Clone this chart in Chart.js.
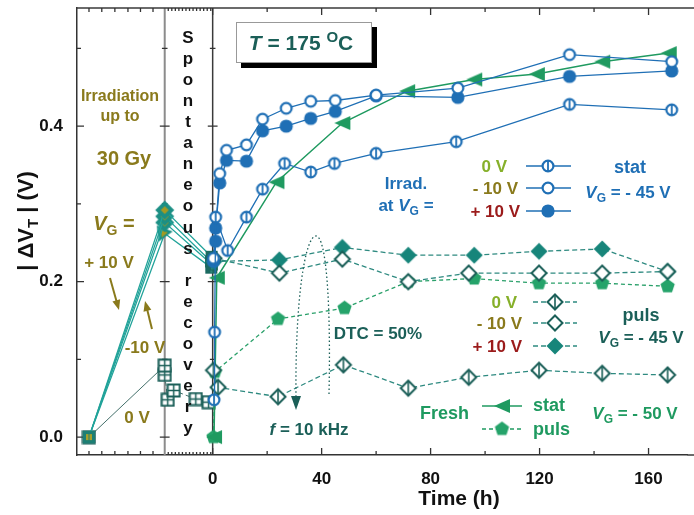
<!DOCTYPE html>
<html>
<head>
<meta charset="utf-8">
<script src="https://cdn.jsdelivr.net/npm/chart.js@4.4.0/dist/chart.umd.min.js"></script>
<style>
  html, body { margin: 0; padding: 0; background: #fff; overflow: hidden; }
</style>
</head>
<body>
<canvas id="chart" width="694" height="515"></canvas>
<script>
// |dVT| (V) versus time (h); t < 0 is irradiation (up to 30 Gy) and spontaneous recovery
const irradP10Stat = [[-45.4, 0], [-17.6, 0.292], [-0.4, 0.232]];
const irradP10Puls = [[-45.4, 0], [-17.6, 0.284], [-0.6, 0.226]];
const irradM10Stat = [[-45.4, 0], [-17.6, 0.276], [-0.3, 0.222]];
const irradM10Puls = [[-45.4, 0], [-17.6, 0.262], [-0.5, 0.218]];
const irradZero = [[-45.4, 0], [-17.6, 0.092]];
const recovZero = [[-17.6, 0.080], [-16.5, 0.048], [-14.3, 0.060], [-6.2, 0.049], [-1.5, 0.045]];

// static stress, VG = -45 V
const statZero = [[0.5, 0.048], [0.7, 0.135], [1.1, 0.283], [5.5, 0.240], [12.4, 0.283], [18.3, 0.319], [26.4, 0.352],
  [36, 0.341], [44.7, 0.352], [60, 0.365], [89.4, 0.380], [131, 0.428], [168.5, 0.421]];
const statM10 = [[0.3, 0.230], [2.6, 0.339], [5.1, 0.369], [12.4, 0.376], [18.3, 0.409], [27, 0.423], [36, 0.432],
  [45, 0.433], [60, 0.440], [90, 0.449], [131, 0.492], [168.5, 0.483]];
const statP10 = [[0.3, 0.226], [1.1, 0.252], [1.1, 0.269], [2.6, 0.327], [5.1, 0.356], [12.4, 0.355], [18.3, 0.394],
  [27, 0.400], [36, 0.410], [45, 0.419], [60, 0.439], [90, 0.437], [131, 0.464], [168.5, 0.471]];

// pulsed stress, VG = -45 V
const pulsZero = [[0.3, 0.086], [2, 0.064], [24, 0.052], [48, 0.093], [71.8, 0.063], [94, 0.077], [119.8, 0.086], [143, 0.082], [167, 0.080]];
const pulsM10 = [[0.5, 0.230], [24.5, 0.211], [47.6, 0.229], [71.8, 0.200], [94, 0.211], [119.8, 0.211], [143, 0.211], [167, 0.213]];
const pulsP10 = [[0.5, 0.226], [24.5, 0.228], [47.6, 0.244], [71.8, 0.234], [96, 0.234], [119.8, 0.239], [143, 0.242], [167, 0.213]];

// fresh devices, VG = -50 V
const freshStat = [[0.5, 0.0], [1.5, 0.205], [23.4, 0.328], [47.6, 0.404], [71.4, 0.445], [96, 0.460], [119, 0.467], [143, 0.483], [167.4, 0.494]];
const freshPuls = [[0.3, 0.0], [0.8, 0.084], [24, 0.152], [48.4, 0.166], [71.8, 0.200], [96, 0.204], [119.8, 0.198], [143, 0.198], [167, 0.194]];

const xTickLabels = [0, 40, 80, 120, 160];
const xMinorTicks = [20, 60, 100, 140];
const yTickLabels = [0, 0.2, 0.4];
const yMinorTicks = [0.1, 0.3, 0.5];
const irrEnd = -17.6;

const FAMILY = '"Liberation Sans", Arial, sans-serif';
const BLUE = '#1f6fb5';
const TEAL = '#17857a';
const DTEAL = '#1b5f58';
const GREEN = '#1f9a60';
const OLIVE = '#8a7a1c';
const LGREEN = '#86b02a';
const DRED = '#9b1b1b';
const IRR = '#22a39a';

const pts = arr => arr.map(([x, y]) => ({ x, y }));

function mk(w, h, fn) {
  const c = document.createElement('canvas');
  c.width = w; c.height = h;
  fn(c.getContext('2d'), w / 2, h / 2);
  return c;
}
function diamondPath(g, cx, cy, r) {
  g.beginPath(); g.moveTo(cx, cy - r); g.lineTo(cx + r, cy); g.lineTo(cx, cy + r); g.lineTo(cx - r, cy); g.closePath();
}

const mOpenCircle = mk(16, 16, (g, cx, cy) => {
  g.beginPath(); g.arc(cx, cy, 5.4, 0, Math.PI * 2); g.fillStyle = '#fff'; g.fill();
  g.lineWidth = 2.2; g.strokeStyle = BLUE; g.stroke();
});
const mBarCircle = mk(16, 16, (g, cx, cy) => {
  g.beginPath(); g.arc(cx, cy, 5.4, 0, Math.PI * 2); g.fillStyle = '#fff'; g.fill();
  g.lineWidth = 2.2; g.strokeStyle = BLUE; g.stroke();
  g.beginPath(); g.moveTo(cx, cy - 5); g.lineTo(cx, cy + 5); g.lineWidth = 1.8; g.stroke();
});
const mFullCircle = mk(16, 16, (g, cx, cy) => {
  g.beginPath(); g.arc(cx, cy, 6.6, 0, Math.PI * 2); g.fillStyle = BLUE; g.fill();
});
const mFullDiamond = mk(20, 20, (g, cx, cy) => {
  diamondPath(g, cx, cy, 8.5); g.fillStyle = TEAL; g.fill();
});
const mOpenDiamond = mk(20, 20, (g, cx, cy) => {
  diamondPath(g, cx, cy, 7.5); g.fillStyle = '#fff'; g.fill(); g.lineWidth = 2; g.strokeStyle = DTEAL; g.stroke();
});
const mBarDiamond = mk(20, 20, (g, cx, cy) => {
  diamondPath(g, cx, cy, 7.5); g.fillStyle = '#fff'; g.fill(); g.lineWidth = 2; g.strokeStyle = DTEAL; g.stroke();
  g.beginPath(); g.moveTo(cx, cy - 7); g.lineTo(cx, cy + 7); g.lineWidth = 1.6; g.stroke();
});
const mLeftTri = mk(18, 16, (g, cx, cy) => {
  g.beginPath(); g.moveTo(1, cy); g.lineTo(17, 1); g.lineTo(17, 15); g.closePath(); g.fillStyle = GREEN; g.fill();
});
const mPentagon = mk(17, 17, (g, cx, cy) => {
  g.beginPath();
  for (let k = 0; k < 5; k++) {
    const a = -Math.PI / 2 + k * 2 * Math.PI / 5;
    g.lineTo(cx + 7.5 * Math.cos(a), cy + 7.5 * Math.sin(a));
  }
  g.closePath(); g.fillStyle = '#25a36a'; g.fill();
});
const mCrossSquare = mk(15, 15, (g, cx, cy) => {
  g.fillStyle = '#fff'; g.fillRect(1.5, 1.5, 12, 12);
  g.strokeStyle = DTEAL; g.lineWidth = 2; g.strokeRect(1.5, 1.5, 12, 12);
  g.beginPath(); g.moveTo(cx, 2); g.lineTo(cx, 13); g.moveTo(2, cy); g.lineTo(13, cy); g.lineWidth = 1.5; g.stroke();
});
const mStart = mk(14, 14, (g, cx, cy) => {
  g.fillStyle = '#1c7f74'; g.fillRect(1, 1, 12, 12);
  g.fillStyle = '#a6a02a'; g.fillRect(cx - 3, cy - 3, 2.5, 6); g.fillRect(cx + 0.5, cy - 3, 2.5, 6);
});
const mIrrDiamond = mk(22, 22, (g, cx, cy) => {
  diamondPath(g, cx, cy, 9.5); g.fillStyle = '#1c8f84'; g.fill();
  diamondPath(g, cx, cy, 4); g.fillStyle = '#a39a22'; g.fill();
});
const mIrrTri = mk(20, 20, (g, cx, cy) => {
  g.beginPath(); g.moveTo(2, 2); g.lineTo(18, 8); g.lineTo(4, 18); g.closePath(); g.fillStyle = '#1c8f84'; g.fill();
  g.beginPath(); g.moveTo(6, 6); g.lineTo(13, 9); g.lineTo(7, 14); g.closePath(); g.fillStyle = '#a39a22'; g.fill();
});
const mCluster = mk(16, 16, (g, cx, cy) => {
  g.fillStyle = '#1b6a60'; g.fillRect(2, 2, 12, 12);
  g.strokeStyle = '#3a9a8c'; g.lineWidth = 1.2; g.beginPath(); g.moveTo(cx, 3); g.lineTo(cx, 13); g.stroke();
});

function line(data, color, style, opts) {
  return Object.assign({
    data: pts(data), showLine: true, borderColor: color, borderWidth: 1.3,
    pointStyle: style, pointRadius: 5, pointHoverRadius: 5, backgroundColor: color
  }, opts || {});
}

const dashed = { borderDash: [5, 3] };
const datasets = [
  line(statZero, BLUE, mBarCircle),
  line(statM10, BLUE, mOpenCircle),
  line(statP10, BLUE, mFullCircle),
  line(pulsZero, '#2e8a80', mBarDiamond, dashed),
  line(pulsM10, '#2e8a80', mOpenDiamond, dashed),
  line(pulsP10, '#2e8a80', mFullDiamond, dashed),
  line(freshStat, GREEN, mLeftTri, { borderWidth: 1.5 }),
  line(freshPuls, '#2aa06a', mPentagon, { borderDash: [4, 3] }),
  line(irradP10Stat, IRR, [mStart, mIrrDiamond, mCluster]),
  line(irradP10Puls, IRR, [mStart, mIrrDiamond, mCluster]),
  line(irradM10Stat, IRR, [mStart, mIrrDiamond, mCluster]),
  line(irradM10Puls, IRR, [mStart, mIrrTri, mCluster]),
  line(irradZero, '#44706b', mCrossSquare, { borderWidth: 1 }),
  line(recovZero, '#44706b', mCrossSquare, { borderWidth: 1, borderDash: [4, 3] })
];

let ctxG;
function rich(g, parts, x, y, size, color, align) {
  const fontOf = st => (st === 'i' ? 'italic ' : '') + 'bold ' +
    (st === 'sub' || st === 'sup' ? Math.round(size * 0.7) : size) + 'px ' + FAMILY;
  let w = 0;
  parts.forEach(p => { g.font = fontOf(p[1]); w += g.measureText(p[0]).width; });
  let cx = align === 'center' ? x - w / 2 : align === 'right' ? x - w : x;
  const base = y + size * 0.36;
  g.fillStyle = color; g.textBaseline = 'alphabetic'; g.textAlign = 'left';
  parts.forEach(p => {
    g.font = fontOf(p[1]);
    const dy = p[1] === 'sub' ? size * 0.25 : p[1] === 'sup' ? -size * 0.35 : 0;
    g.fillText(p[0], cx, base + dy);
    cx += g.measureText(p[0]).width;
  });
}
const T = (s, x, y, size, color, align) => rich(ctxG, [[s, '']], x, y, size, color, align || 'center');

function arrow(g, x1, y1, x2, y2, color) {
  const a = Math.atan2(y2 - y1, x2 - x1);
  g.strokeStyle = color; g.fillStyle = color; g.lineWidth = 2;
  g.beginPath(); g.moveTo(x1, y1); g.lineTo(x2 - 7 * Math.cos(a), y2 - 7 * Math.sin(a)); g.stroke();
  g.beginPath(); g.moveTo(x2, y2);
  g.lineTo(x2 - 10 * Math.cos(a) + 4 * Math.sin(a), y2 - 10 * Math.sin(a) - 4 * Math.cos(a));
  g.lineTo(x2 - 10 * Math.cos(a) - 4 * Math.sin(a), y2 - 10 * Math.sin(a) + 4 * Math.cos(a));
  g.closePath(); g.fill();
}

const decor = {
  id: 'decor',
  beforeDatasetsDraw(chart) {
    const g = chart.ctx, a = chart.chartArea, xs = chart.scales.x, ys = chart.scales.y;
    const x0 = xs.getPixelForValue(0), xr = xs.getPixelForValue(irrEnd);
    g.save();
    g.strokeStyle = '#8c8c8c'; g.lineWidth = 2;
    g.beginPath(); g.moveTo(xr, a.top); g.lineTo(xr, a.bottom); g.stroke();
    g.strokeStyle = '#3a3a3a'; g.lineWidth = 1.5;
    g.beginPath(); g.moveTo(x0, a.top); g.lineTo(x0, a.bottom); g.stroke();
    g.beginPath(); g.moveTo(a.left, a.top); g.lineTo(chart.width, a.top); g.stroke();
    g.beginPath(); g.moveTo(a.right, a.bottom); g.lineTo(chart.width, a.bottom); g.stroke();
    // ticks
    g.lineWidth = 1.3; g.strokeStyle = '#333';
    const yt = (v, len) => {
      const y = ys.getPixelForValue(v);
      g.beginPath(); g.moveTo(a.left, y); g.lineTo(a.left + len, y);
      g.moveTo(x0 - len * 0.7, y); g.lineTo(x0 + len * 0.7, y);
      g.moveTo(xr - len * 0.7, y); g.lineTo(xr + len * 0.7, y); g.stroke();
    };
    yTickLabels.forEach(v => yt(v, 7));
    yMinorTicks.forEach(v => yt(v, 4));
    const xt = (v, len) => {
      const x = xs.getPixelForValue(v);
      g.beginPath(); g.moveTo(x, a.bottom); g.lineTo(x, a.bottom - len);
      g.moveTo(x, a.top); g.lineTo(x, a.top + len); g.stroke();
    };
    xTickLabels.forEach(v => xt(v, 7));
    xMinorTicks.forEach(v => xt(v, 4));
    [-45.4, -40.7, -35.9, -31.1, -26.5, -21.9].forEach(v => xt(v, 4));
    for (let v = -16.3; v < -0.5; v += 1.3) xt(v, 3);
    g.restore();
  },
  afterDraw(chart) {
    const g = chart.ctx;
    ctxG = g;
    g.save();
    // y axis title
    g.save(); g.translate(25, 221); g.rotate(-Math.PI / 2);
    rich(g, [['| ΔV', ''], ['T', 'sub'], [' | (V)', '']], 0, 0, 22, '#111', 'center');
    g.restore();
    T('Time (h)', 459, 497, 21, '#111');

    // spontaneous recovery, vertical letters
    const w1 = 'Spontaneous', w2 = 'recovery';
    g.font = 'bold 17px ' + FAMILY; g.fillStyle = '#111'; g.textAlign = 'center'; g.textBaseline = 'middle';
    [...w1].forEach((c, i) => g.fillText(c, 188, 38 + i * 21.1));
    [...w2].forEach((c, i) => g.fillText(c, 188, 281 + i * 21.1));

    // irradiation annotations
    T('Irradiation', 120, 95, 16, OLIVE);
    T('up to', 120, 115, 16, OLIVE);
    T('30 Gy', 124, 158, 20, OLIVE);
    rich(g, [['V', 'i'], ['G', 'sub'], [' =', '']], 114, 223, 20, OLIVE, 'center');
    T('+ 10 V', 109, 262, 17, OLIVE);
    T('-10 V', 145, 347, 17, OLIVE);
    T('0 V', 137, 417, 17, OLIVE);
    arrow(g, 110, 278, 119, 310, OLIVE);
    arrow(g, 152, 329, 145, 301, OLIVE);

    // temperature box
    g.fillStyle = '#000'; g.fillRect(241, 27, 136, 41);
    g.fillStyle = '#fff'; g.fillRect(236, 22, 136, 41);
    g.strokeStyle = '#999'; g.lineWidth = 1; g.strokeRect(236.5, 22.5, 135, 40);
    rich(g, [['T', 'i'], [' = 175 ', ''], ['O', 'sup'], ['C', '']], 301, 42, 21, DTEAL, 'center');

    // stat legend
    T('Irrad.', 406, 183, 17, BLUE);
    rich(g, [['at ', ''], ['V', 'i'], ['G', 'sub'], [' =', '']], 406, 205, 17, BLUE, 'center');
    T('0 V', 507, 166, 17, LGREEN, 'right');
    T('- 10 V', 518, 188, 17, OLIVE, 'right');
    T('+ 10 V', 520, 211, 17, DRED, 'right');
    [[166, mBarCircle], [188, mOpenCircle], [211, mFullCircle]].forEach(([y, m]) => {
      g.strokeStyle = BLUE; g.lineWidth = 1.3; g.setLineDash([]);
      g.beginPath(); g.moveTo(526, y); g.lineTo(571, y); g.stroke();
      g.drawImage(m, 548 - m.width / 2, y - m.height / 2);
    });
    T('stat', 630, 167, 18, BLUE);
    rich(g, [['V', 'i'], ['G', 'sub'], [' = - 45 V', '']], 628, 192, 17, BLUE, 'center');

    // puls legend
    T('0 V', 517, 302, 17, LGREEN, 'right');
    T('- 10 V', 522, 323, 17, OLIVE, 'right');
    T('+ 10 V', 522, 346, 17, DRED, 'right');
    [[302, mBarDiamond], [323, mOpenDiamond], [346, mFullDiamond]].forEach(([y, m]) => {
      g.strokeStyle = '#2e8a80'; g.lineWidth = 1.3; g.setLineDash([5, 3]);
      g.beginPath(); g.moveTo(533, y); g.lineTo(577, y); g.stroke();
      g.setLineDash([]);
      g.drawImage(m, 555 - m.width / 2, y - m.height / 2);
    });
    T('puls', 641, 315, 18, DTEAL);
    rich(g, [['V', 'i'], ['G', 'sub'], [' = - 45 V', '']], 641, 337, 17, DTEAL, 'center');

    // fresh legend
    T('Fresh', 420, 413, 18, GREEN, 'left');
    g.strokeStyle = GREEN; g.lineWidth = 1.5; g.setLineDash([]);
    g.beginPath(); g.moveTo(482, 406); g.lineTo(522, 406); g.stroke();
    g.drawImage(mLeftTri, 502 - 9, 406 - 8);
    g.setLineDash([4, 3]); g.lineWidth = 1.3;
    g.beginPath(); g.moveTo(482, 429); g.lineTo(522, 429); g.stroke();
    g.setLineDash([]);
    g.drawImage(mPentagon, 502 - 8.5, 429 - 8.5);
    T('stat', 533, 405, 18, GREEN, 'left');
    T('puls', 533, 429, 18, GREEN, 'left');
    rich(g, [['V', 'i'], ['G', 'sub'], [' = - 50 V', '']], 635, 413, 17, GREEN, 'center');

    // duty cycle / frequency annotation
    T('DTC = 50%', 378, 333, 17, DTEAL);
    rich(g, [['f', 'i'], [' = 10 kHz', '']], 309, 429, 17, DTEAL, 'center');
    g.strokeStyle = DTEAL; g.lineWidth = 1.3; g.setLineDash([1.5, 2.5]);
    g.beginPath(); g.moveTo(329, 394);
    g.bezierCurveTo(331, 300, 326, 236, 316, 236);
    g.bezierCurveTo(305, 236, 295, 300, 296, 398);
    g.stroke(); g.setLineDash([]);
    g.fillStyle = DTEAL;
    g.beginPath(); g.moveTo(291, 396); g.lineTo(301, 396); g.lineTo(296, 410); g.closePath(); g.fill();
    g.restore();
  }
};

new Chart(document.getElementById('chart'), {
  type: 'scatter',
  data: { datasets },
  options: {
    responsive: false,
    animation: false,
    devicePixelRatio: 1,
    layout: { padding: { top: 8, right: 1, left: 0, bottom: 0 } },
    plugins: { legend: { display: false }, tooltip: { enabled: false } },
    scales: {
      x: {
        type: 'linear', min: -49.8, max: 174.3,
        afterFit: s => { s.height = 60; s.paddingLeft = 0; s.paddingRight = 0; },
        afterBuildTicks: s => { s.ticks = xTickLabels.map(v => ({ value: v })); },
        ticks: { font: { size: 17, weight: 'bold', family: FAMILY }, color: '#111', padding: 6, maxRotation: 0, autoSkip: false },
        grid: { display: false },
        border: { display: true, color: '#333', width: 1.5 }
      },
      y: {
        min: -0.023, max: 0.552,
        afterFit: s => { s.width = 77; s.paddingTop = 0; s.paddingBottom = 0; },
        afterBuildTicks: s => { s.ticks = yTickLabels.map(v => ({ value: v })); },
        ticks: { callback: v => v.toFixed(1), font: { size: 17, weight: 'bold', family: FAMILY }, color: '#111', padding: 6 },
        grid: { display: false },
        border: { display: true, color: '#333', width: 1.5 }
      }
    }
  },
  plugins: [decor]
});
</script>
</body>
</html>
